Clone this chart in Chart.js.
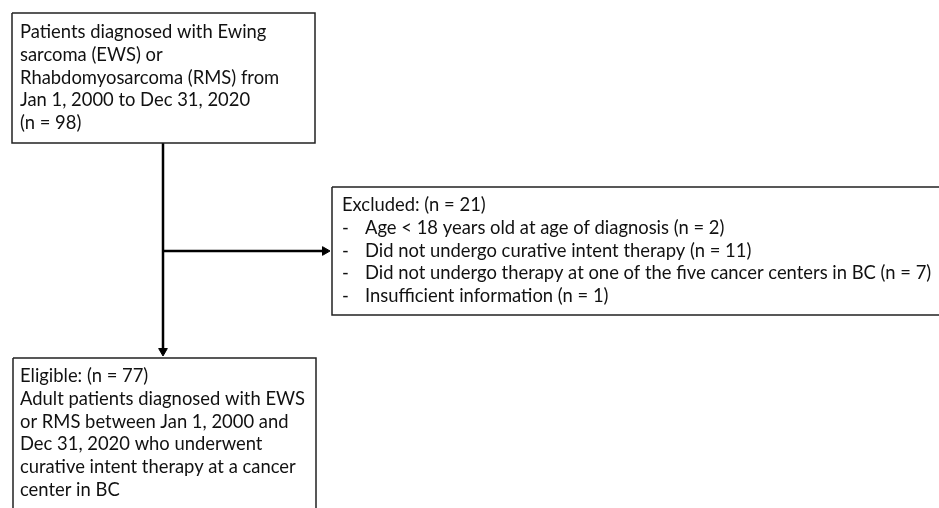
<!DOCTYPE html>
<html lang="en">
<head>
    <meta charset="UTF-8">
    <title>Patient selection flowchart</title>
    <script src="https://cdn.jsdelivr.net/npm/chart.js"></script>
    <style>
        html, body { margin: 0; padding: 0; background: #fff; }
        #wrap { width: 939px; height: 508px; }
    </style>
</head>
<body>
<div id="wrap">
    <canvas id="flowChart" width="939" height="508"></canvas>
</div>

<script>
// Counts shown in the flowchart
var totalPatients = 98;
var eligiblePatients = 77;
var excludedReasons = [
    'Age < 18 years old at age of diagnosis',
    'Did not undergo curative intent therapy',
    'Did not undergo therapy at one of the five cancer centers in BC',
    'Insufficient information'
];
var excludedCounts = [2, 11, 7, 1];
var excludedTotal = 21;

// Text of each box
var screenedLines = [
    'Patients diagnosed with Ewing',
    'sarcoma (EWS) or',
    'Rhabdomyosarcoma (RMS) from',
    'Jan 1, 2000 to Dec 31, 2020',
    '(n = ' + totalPatients + ')'
];
var excludedLines = ['Excluded: (n = ' + excludedTotal + ')'];
for (var i = 0; i < excludedReasons.length; i++) {
    excludedLines.push(excludedReasons[i] + ' (n = ' + excludedCounts[i] + ')');
}
var eligibleLines = [
    'Eligible: (n = ' + eligiblePatients + ')',
    'Adult patients diagnosed with EWS',
    'or RMS between Jan 1, 2000 and',
    'Dec 31, 2020 who underwent',
    'curative intent therapy at a cancer',
    'center in BC'
];

// Layout in page units (same size as the canvas)
var boxes = [
    { x0: 12, y0: 13, x1: 315, y1: 143, textX: 20, textY: 32, lines: screenedLines, bullets: false },
    { x0: 332, y0: 187, x1: 950, y1: 315, textX: 342, textY: 205, lines: excludedLines, bullets: true },
    { x0: 13, y0: 358, x1: 316, y1: 520, textX: 20, textY: 376, lines: eligibleLines, bullets: false }
];
var lineStep = 22.8;

function rectPoints(b) {
    return [
        { x: b.x0, y: b.y0 }, { x: b.x1, y: b.y0 },
        { x: b.x1, y: b.y1 }, { x: b.x0, y: b.y1 }, { x: b.x0, y: b.y0 }
    ];
}

var datasets = boxes.map(function (b) {
    return {
        data: rectPoints(b),
        showLine: true,
        clip: false,
        borderColor: '#222',
        borderWidth: 1.5,
        pointRadius: 0,
        tension: 0
    };
});

// Connectors with arrow heads on their last point
datasets.push({
    data: [{ x: 163, y: 143 }, { x: 163, y: 351 }],
    showLine: true,
    clip: false,
    borderColor: '#000',
    borderWidth: 2.5,
    pointRadius: [0, 5],
    pointStyle: 'triangle',
    rotation: 180,
    pointBackgroundColor: '#000',
    pointBorderColor: '#000',
    pointBorderWidth: 1
});
datasets.push({
    data: [{ x: 163, y: 251 }, { x: 325, y: 251 }],
    showLine: true,
    clip: false,
    borderColor: '#000',
    borderWidth: 2.5,
    pointRadius: [0, 5],
    pointStyle: 'triangle',
    rotation: 90,
    pointBackgroundColor: '#000',
    pointBorderColor: '#000',
    pointBorderWidth: 1
});

var boxText = {
    id: 'boxText',
    afterDatasetsDraw: function (chart) {
        var ctx = chart.ctx;
        var xs = chart.scales.x, ys = chart.scales.y;
        ctx.save();
        ctx.fillStyle = '#111';
        ctx.font = '18.4px Lato';
        ctx.textBaseline = 'middle';
        ctx.textAlign = 'left';
        boxes.forEach(function (b) {
            b.lines.forEach(function (line, k) {
                var y = ys.getPixelForValue(b.textY + k * lineStep);
                if (b.bullets && k > 0) {
                    ctx.fillText('-', xs.getPixelForValue(b.textX), y);
                    ctx.fillText(line, xs.getPixelForValue(b.textX + 23), y);
                } else {
                    ctx.fillText(line, xs.getPixelForValue(b.textX), y);
                }
            });
        });
        ctx.restore();
    }
};

var flowChart = new Chart(document.getElementById('flowChart').getContext('2d'), {
    type: 'scatter',
    data: { datasets: datasets },
    options: {
        responsive: false,
        animation: false,
        layout: { padding: 0, autoPadding: false },
        plugins: { legend: { display: false }, tooltip: { enabled: false } },
        scales: {
            x: { type: 'linear', min: 0, max: 939, display: false },
            y: { type: 'linear', min: 0, max: 508, reverse: true, display: false }
        }
    },
    plugins: [boxText]
});
</script>
</body>
</html>
